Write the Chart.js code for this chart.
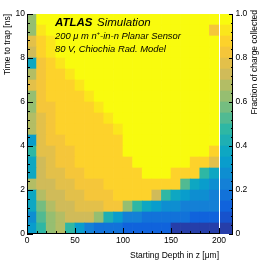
<!DOCTYPE html>
<html lang="en">
<head>
  <meta charset="UTF-8">
  <title>Time to trap vs starting depth</title>
  <style>
    body { margin: 0; background: #fff; }
    #wrap { position: relative; width: 274px; height: 261px; }
    #heat { position: absolute; left: 0; top: 0; }
    #bar { position: absolute; left: 220px; top: 0; }
  </style>
  <script src="https://cdn.jsdelivr.net/npm/chart.js"></script>
</head>
<body>
  <div id="wrap">
    <canvas id="heat" width="274" height="261"></canvas>
    <canvas id="bar" width="54" height="261"></canvas>
  </div>

  <script>
    // bin centres along z (um), bins are 10 um wide
    const depthCentres = [5, 15, 25, 35, 45, 55, 65, 75, 85, 95, 105, 115, 125, 135, 145, 155, 165, 175, 185, 195];
    // time bins (ns), 0.5 ns wide, listed top (9.5-10) to bottom (0-0.5)
    const timeRows = ['9.5-10', '9-9.5', '8.5-9', '8-8.5', '7.5-8', '7-7.5', '6.5-7', '6-6.5', '5.5-6', '5-5.5',
                      '4.5-5', '4-4.5', '3.5-4', '3-3.5', '2.5-3', '2-2.5', '1.5-2', '1-1.5', '0.5-1', '0-0.5'];
    const rowHeight = 0.5;

    // fraction of charge collected, one row per time bin, same order as timeRows
    const fraction = [
      [0.60, 0.96, 0.97, 0.97, 0.97, 0.97, 0.97, 0.97, 0.97, 0.97, 0.97, 0.97, 0.97, 0.97, 0.97, 0.97, 0.97, 0.97, 0.97, 0.97],
      [0.62, 0.92, 0.97, 0.97, 0.97, 0.97, 0.97, 0.97, 0.97, 0.97, 0.97, 0.97, 0.97, 0.97, 0.97, 0.97, 0.97, 0.97, 0.97, 0.83],
      [0.76, 0.86, 0.93, 0.97, 0.97, 0.97, 0.97, 0.97, 0.97, 0.97, 0.97, 0.97, 0.97, 0.97, 0.97, 0.97, 0.97, 0.97, 0.97, 0.97],
      [0.70, 0.85, 0.92, 0.97, 0.97, 0.97, 0.97, 0.97, 0.97, 0.97, 0.97, 0.97, 0.97, 0.97, 0.97, 0.97, 0.97, 0.97, 0.97, 0.97],
      [0.35, 0.84, 0.87, 0.93, 0.97, 0.97, 0.97, 0.97, 0.97, 0.97, 0.97, 0.97, 0.97, 0.97, 0.97, 0.97, 0.97, 0.97, 0.97, 0.97],
      [0.68, 0.83, 0.86, 0.87, 0.93, 0.97, 0.97, 0.97, 0.97, 0.97, 0.97, 0.97, 0.97, 0.97, 0.97, 0.97, 0.97, 0.97, 0.97, 0.97],
      [0.75, 0.82, 0.86, 0.87, 0.87, 0.93, 0.97, 0.97, 0.97, 0.97, 0.97, 0.97, 0.97, 0.97, 0.97, 0.97, 0.97, 0.97, 0.97, 0.97],
      [0.60, 0.82, 0.85, 0.86, 0.87, 0.87, 0.93, 0.97, 0.97, 0.97, 0.97, 0.97, 0.97, 0.97, 0.97, 0.97, 0.97, 0.97, 0.97, 0.97],
      [0.62, 0.81, 0.84, 0.86, 0.86, 0.87, 0.87, 0.93, 0.97, 0.97, 0.97, 0.97, 0.97, 0.97, 0.97, 0.97, 0.97, 0.97, 0.97, 0.97],
      [0.66, 0.79, 0.84, 0.85, 0.86, 0.87, 0.87, 0.87, 0.93, 0.97, 0.97, 0.97, 0.97, 0.97, 0.97, 0.97, 0.97, 0.97, 0.97, 0.97],
      [0.68, 0.77, 0.80, 0.85, 0.86, 0.86, 0.86, 0.87, 0.88, 0.93, 0.97, 0.97, 0.97, 0.97, 0.97, 0.97, 0.97, 0.97, 0.97, 0.97],
      [0.33, 0.76, 0.80, 0.82, 0.85, 0.86, 0.86, 0.87, 0.88, 0.88, 0.97, 0.97, 0.97, 0.97, 0.97, 0.97, 0.97, 0.97, 0.97, 0.96],
      [0.46, 0.75, 0.78, 0.80, 0.84, 0.86, 0.86, 0.87, 0.87, 0.88, 0.96, 0.97, 0.97, 0.97, 0.97, 0.97, 0.97, 0.97, 0.97, 0.88],
      [0.35, 0.74, 0.77, 0.80, 0.82, 0.85, 0.86, 0.86, 0.87, 0.87, 0.88, 0.97, 0.97, 0.97, 0.97, 0.97, 0.97, 0.88, 0.88, 0.78],
      [0.35, 0.71, 0.75, 0.78, 0.80, 0.83, 0.85, 0.86, 0.86, 0.87, 0.87, 0.88, 0.96, 0.96, 0.96, 0.88, 0.88, 0.87, 0.48, 0.37],
      [0.65, 0.70, 0.73, 0.75, 0.78, 0.80, 0.82, 0.84, 0.85, 0.85, 0.86, 0.86, 0.87, 0.87, 0.87, 0.86, 0.50, 0.38, 0.30, 0.27],
      [0.35, 0.65, 0.70, 0.72, 0.75, 0.78, 0.80, 0.82, 0.83, 0.85, 0.85, 0.85, 0.85, 0.70, 0.45, 0.37, 0.33, 0.28, 0.25, 0.23],
      [0.36, 0.58, 0.67, 0.70, 0.73, 0.75, 0.76, 0.78, 0.80, 0.82, 0.62, 0.45, 0.36, 0.31, 0.27, 0.25, 0.23, 0.22, 0.20, 0.20],
      [0.25, 0.52, 0.60, 0.68, 0.72, 0.73, 0.74, 0.60, 0.43, 0.30, 0.23, 0.20, 0.19, 0.18, 0.18, 0.15, 0.15, 0.14, 0.14, 0.14],
      [0.30, 0.45, 0.62, 0.68, 0.46, 0.31, 0.22, 0.19, 0.16, 0.15, 0.13, 0.12, 0.12, 0.12, 0.11, 0.04, 0.04, 0.04, 0.04, 0.04]
    ];

    const xTicks = [0, 50, 100, 150, 200];
    const yTicks = [0, 2, 4, 6, 8, 10];
    const zTicks = [0, 0.2, 0.4, 0.6, 0.8, 1];
    const nLevels = 20;

    // ROOT "bird" palette
    const birdStops = [0.0, 0.125, 0.25, 0.375, 0.5, 0.625, 0.75, 0.875, 1.0];
    const birdR = [0.2082, 0.0592, 0.0780, 0.0232, 0.1802, 0.5301, 0.8186, 0.9956, 0.9764];
    const birdG = [0.1664, 0.3599, 0.5041, 0.6419, 0.7178, 0.7492, 0.7328, 0.7862, 0.9832];
    const birdB = [0.5293, 0.8684, 0.8385, 0.7914, 0.6425, 0.4662, 0.3499, 0.1968, 0.0539];

    function birdColour(p) {
      let k = 0;
      while (k < birdStops.length - 2 && p > birdStops[k + 1]) k++;
      const t = (p - birdStops[k]) / (birdStops[k + 1] - birdStops[k]);
      const mix = arr => Math.round(255 * (arr[k] + (arr[k + 1] - arr[k]) * t));
      return `rgb(${mix(birdR)}, ${mix(birdG)}, ${mix(birdB)})`;
    }

    function levelColour(v) {
      const lvl = Math.min(nLevels - 1, Math.max(0, Math.floor(v * nLevels)));
      return birdColour((lvl + 0.99) / nLevels);
    }

    const fontFamily = '"Liberation Sans", Arial, Helvetica, sans-serif';
    const tickFont = { family: fontFamily, size: 8.5 };

    // ticks drawn inside the frame, ROOT style
    const frameTicks = {
      id: 'frameTicks',
      afterDatasetsDraw(chart) {
        const { ctx, chartArea: a, scales: { x, y } } = chart;
        ctx.save();
        ctx.strokeStyle = '#000';
        ctx.lineWidth = 1;
        ctx.beginPath();
        ctx.moveTo(a.left + 0.5, a.top);
        ctx.lineTo(a.left + 0.5, a.bottom);
        ctx.moveTo(a.left, a.bottom - 0.5);
        ctx.lineTo(a.right, a.bottom - 0.5);
        for (let v = 0; v <= 200; v += 10) {
          const px = Math.round(x.getPixelForValue(v)) + 0.5;
          const len = v % 50 === 0 ? 6 : 3;
          ctx.moveTo(px, a.bottom);
          ctx.lineTo(px, a.bottom - len);
        }
        for (let i = 0; i <= 25; i++) {
          const v = i * 0.4;
          const py = Math.round(y.getPixelForValue(v)) + 0.5;
          const len = i % 5 === 0 ? 6 : 3;
          ctx.moveTo(a.left, py);
          ctx.lineTo(a.left + len, py);
        }
        ctx.stroke();
        ctx.restore();
      }
    };

    const atlasLabel = {
      id: 'atlasLabel',
      afterDraw(chart) {
        const ctx = chart.ctx;
        ctx.save();
        ctx.fillStyle = '#000';
        ctx.textBaseline = 'alphabetic';
        ctx.textAlign = 'left';
        ctx.font = `italic bold 11.5px ${fontFamily}`;
        ctx.fillText('ATLAS', 55, 26);
        ctx.font = `italic 11.5px ${fontFamily}`;
        ctx.fillText('Simulation', 97, 26);

        ctx.font = `italic 9.4px ${fontFamily}`;
        let xPos = 55;
        const first = '200 \u03bc m n';
        ctx.fillText(first, xPos, 39);
        xPos += ctx.measureText(first).width;
        ctx.font = `italic 6px ${fontFamily}`;
        ctx.fillText('+', xPos, 35);
        xPos += ctx.measureText('+').width;
        ctx.font = `italic 9.4px ${fontFamily}`;
        ctx.fillText('-in-n Planar Sensor', xPos, 39);

        ctx.fillText('80 V, Chiochia Rad. Model', 55, 52);
        ctx.restore();
      }
    };

    const heatSets = fraction.slice().reverse().map((row, i) => ({
      label: timeRows[timeRows.length - 1 - i],
      data: depthCentres.map(z => ({ x: z, y: rowHeight })),
      backgroundColor: row.map(levelColour),
      borderWidth: 0,
      barPercentage: 1,
      categoryPercentage: 1
    }));

    new Chart(document.getElementById('heat'), {
      type: 'bar',
      data: { datasets: heatSets },
      options: {
        responsive: false,
        animation: false,
        devicePixelRatio: 1,
        layout: { padding: { top: 14, right: 55, left: 0, bottom: 0 } },
        plugins: { legend: { display: false }, tooltip: { enabled: false } },
        scales: {
          x: {
            type: 'linear',
            stacked: true,
            min: 0,
            max: 200,
            offset: false,
            grid: { display: false, drawTicks: false },
            border: { display: false },
            afterBuildTicks: s => { s.ticks = xTicks.map(v => ({ value: v })); },
            afterFit: s => { s.height = 27; },
            ticks: { font: tickFont, color: '#000', padding: 2, maxRotation: 0, autoSkip: false },
            title: {
              display: true, text: 'Starting Depth in z [\u03bcm]', align: 'end',
              font: tickFont, color: '#000', padding: { top: 6, bottom: 0 }
            }
          },
          y: {
            stacked: true,
            min: 0,
            max: 10,
            grid: { display: false, drawTicks: false },
            border: { display: false },
            afterBuildTicks: s => { s.ticks = yTicks.map(v => ({ value: v })); },
            afterFit: s => { s.width = 27; },
            ticks: { font: tickFont, color: '#000', padding: 2 },
            title: {
              display: true, text: 'Time to trap [ns]', align: 'end',
              font: tickFont, color: '#000', padding: { top: 2.5, bottom: 0 }
            }
          }
        }
      },
      plugins: [frameTicks, atlasLabel]
    });

    // colour scale
    const barTicks = {
      id: 'barTicks',
      afterDatasetsDraw(chart) {
        const { ctx, chartArea: a, scales: { y } } = chart;
        ctx.save();
        ctx.strokeStyle = '#000';
        ctx.lineWidth = 1;
        ctx.beginPath();
        ctx.moveTo(a.right - 0.5, a.top);
        ctx.lineTo(a.right - 0.5, a.bottom);
        for (let i = 0; i <= 25; i++) {
          const py = Math.round(y.getPixelForValue(i * 0.04)) + 0.5;
          const len = i % 5 === 0 ? 4 : 2;
          ctx.moveTo(a.right, py);
          ctx.lineTo(a.right - len, py);
        }
        ctx.stroke();

        ctx.fillStyle = '#000';
        ctx.font = `8.5px ${fontFamily}`;
        ctx.translate(35, 10);
        ctx.rotate(-Math.PI / 2);
        ctx.textAlign = 'right';
        ctx.textBaseline = 'middle';
        ctx.fillText('Fraction of charge collected', 0, 0);
        ctx.restore();
      }
    };

    const levelSets = [];
    for (let lvl = 0; lvl < nLevels; lvl++) {
      levelSets.push({
        data: [1 / nLevels],
        backgroundColor: levelColour((lvl + 0.5) / nLevels),
        borderWidth: 0,
        barPercentage: 1,
        categoryPercentage: 1
      });
    }

    new Chart(document.getElementById('bar'), {
      type: 'bar',
      data: { labels: [''], datasets: levelSets },
      options: {
        responsive: false,
        animation: false,
        devicePixelRatio: 1,
        layout: { padding: { top: 14, bottom: 27, left: 0, right: 0 } },
        plugins: { legend: { display: false }, tooltip: { enabled: false } },
        scales: {
          x: { display: false, stacked: true },
          y: {
            position: 'right',
            stacked: true,
            min: 0,
            max: 1,
            grid: { display: false, drawTicks: false },
            border: { display: false },
            afterBuildTicks: s => { s.ticks = zTicks.map(v => ({ value: v })); },
            afterFit: s => { s.width = 41; },
            ticks: { font: tickFont, color: '#000', padding: 2.5 }
          }
        }
      },
      plugins: [barTicks]
    });
  </script>
</body>
</html>
